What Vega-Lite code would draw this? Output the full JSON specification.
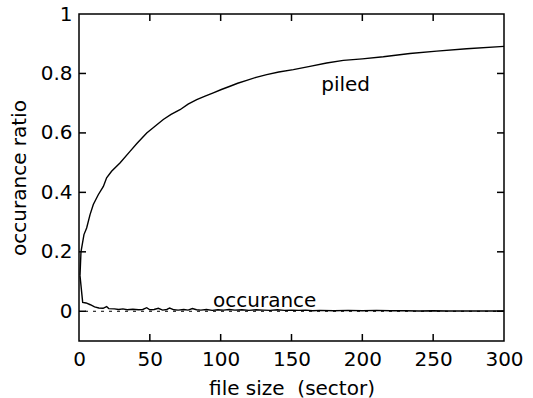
{
  "$schema": "https://vega.github.io/schema/vega-lite/v6.json",
  "width": 425,
  "height": 327,
  "autosize": {"type": "none"},
  "padding": {"left": 79, "top": 14, "right": 29, "bottom": 57},
  "background": "white",
  "config": {
    "view": {"stroke": "black", "strokeWidth": 1.5},
    "font": "DejaVu Sans",
    "axis": {
      "grid": false,
      "domain": false,
      "ticks": false,
      "labelFont": "DejaVu Sans",
      "labelFontSize": 20,
      "labelColor": "black",
      "titleFont": "DejaVu Sans",
      "titleFontSize": 20,
      "titleFontWeight": "normal",
      "titleColor": "black"
    }
  },
  "datasets": {
    "curves": [
      {"s": "piled", "x": 0.7, "y": 0.12},
      {"s": "piled", "x": 1.4, "y": 0.2},
      {"s": "piled", "x": 3.5, "y": 0.258},
      {"s": "piled", "x": 5.4, "y": 0.28},
      {"s": "piled", "x": 7.8, "y": 0.325},
      {"s": "piled", "x": 10.1, "y": 0.359},
      {"s": "piled", "x": 13.6, "y": 0.392},
      {"s": "piled", "x": 17.2, "y": 0.42},
      {"s": "piled", "x": 19.5, "y": 0.449},
      {"s": "piled", "x": 23, "y": 0.471},
      {"s": "piled", "x": 28.9, "y": 0.499},
      {"s": "piled", "x": 36, "y": 0.538},
      {"s": "piled", "x": 41, "y": 0.565},
      {"s": "piled", "x": 47.8, "y": 0.6},
      {"s": "piled", "x": 53, "y": 0.62},
      {"s": "piled", "x": 59.5, "y": 0.645},
      {"s": "piled", "x": 65, "y": 0.662},
      {"s": "piled", "x": 71.3, "y": 0.678},
      {"s": "piled", "x": 77, "y": 0.697},
      {"s": "piled", "x": 83.1, "y": 0.712},
      {"s": "piled", "x": 89, "y": 0.724},
      {"s": "piled", "x": 94.8, "y": 0.735},
      {"s": "piled", "x": 100.5, "y": 0.746},
      {"s": "piled", "x": 106.6, "y": 0.757},
      {"s": "piled", "x": 112, "y": 0.767},
      {"s": "piled", "x": 118.4, "y": 0.777},
      {"s": "piled", "x": 125, "y": 0.787},
      {"s": "piled", "x": 132.5, "y": 0.796},
      {"s": "piled", "x": 141, "y": 0.805},
      {"s": "piled", "x": 151.3, "y": 0.813},
      {"s": "piled", "x": 163, "y": 0.824},
      {"s": "piled", "x": 174.8, "y": 0.835},
      {"s": "piled", "x": 186.6, "y": 0.844},
      {"s": "piled", "x": 200, "y": 0.849},
      {"s": "piled", "x": 214.8, "y": 0.856},
      {"s": "piled", "x": 233.6, "y": 0.867},
      {"s": "piled", "x": 252.5, "y": 0.875},
      {"s": "piled", "x": 273.6, "y": 0.883},
      {"s": "piled", "x": 300, "y": 0.891},
      {"s": "occ", "x": 0.7, "y": 0.12},
      {"s": "occ", "x": 2.6, "y": 0.03},
      {"s": "occ", "x": 5, "y": 0.028},
      {"s": "occ", "x": 8, "y": 0.022},
      {"s": "occ", "x": 11, "y": 0.015},
      {"s": "occ", "x": 14, "y": 0.011},
      {"s": "occ", "x": 17, "y": 0.01},
      {"s": "occ", "x": 19.5, "y": 0.016},
      {"s": "occ", "x": 21, "y": 0.009},
      {"s": "occ", "x": 25, "y": 0.008},
      {"s": "occ", "x": 28, "y": 0.006},
      {"s": "occ", "x": 31, "y": 0.008},
      {"s": "occ", "x": 34, "y": 0.005},
      {"s": "occ", "x": 38, "y": 0.007},
      {"s": "occ", "x": 42, "y": 0.005},
      {"s": "occ", "x": 45, "y": 0.006},
      {"s": "occ", "x": 47.8, "y": 0.012},
      {"s": "occ", "x": 50, "y": 0.005},
      {"s": "occ", "x": 53, "y": 0.006},
      {"s": "occ", "x": 56, "y": 0.01},
      {"s": "occ", "x": 59, "y": 0.004},
      {"s": "occ", "x": 62, "y": 0.006},
      {"s": "occ", "x": 64, "y": 0.011},
      {"s": "occ", "x": 67, "y": 0.005},
      {"s": "occ", "x": 70, "y": 0.004},
      {"s": "occ", "x": 74, "y": 0.006},
      {"s": "occ", "x": 77, "y": 0.004},
      {"s": "occ", "x": 80, "y": 0.009},
      {"s": "occ", "x": 83, "y": 0.005},
      {"s": "occ", "x": 86, "y": 0.004},
      {"s": "occ", "x": 90, "y": 0.006},
      {"s": "occ", "x": 94, "y": 0.003},
      {"s": "occ", "x": 98, "y": 0.005},
      {"s": "occ", "x": 102, "y": 0.004},
      {"s": "occ", "x": 106, "y": 0.006},
      {"s": "occ", "x": 110, "y": 0.004},
      {"s": "occ", "x": 115, "y": 0.005},
      {"s": "occ", "x": 120, "y": 0.003},
      {"s": "occ", "x": 125, "y": 0.005},
      {"s": "occ", "x": 130, "y": 0.004},
      {"s": "occ", "x": 135, "y": 0.003},
      {"s": "occ", "x": 140, "y": 0.005},
      {"s": "occ", "x": 145, "y": 0.003},
      {"s": "occ", "x": 150, "y": 0.004},
      {"s": "occ", "x": 155, "y": 0.003},
      {"s": "occ", "x": 160, "y": 0.004},
      {"s": "occ", "x": 165, "y": 0.002},
      {"s": "occ", "x": 170, "y": 0.003},
      {"s": "occ", "x": 180, "y": 0.002},
      {"s": "occ", "x": 190, "y": 0.003},
      {"s": "occ", "x": 200, "y": 0.002},
      {"s": "occ", "x": 210, "y": 0.003},
      {"s": "occ", "x": 220, "y": 0.002},
      {"s": "occ", "x": 230, "y": 0.002},
      {"s": "occ", "x": 240, "y": 0.001},
      {"s": "occ", "x": 250, "y": 0.002},
      {"s": "occ", "x": 260, "y": 0.001},
      {"s": "occ", "x": 270, "y": 0.001},
      {"s": "occ", "x": 280, "y": 0.001},
      {"s": "occ", "x": 290, "y": 0.001},
      {"s": "occ", "x": 300, "y": 0.001}
    ],
    "labels": [
      {"x": 171, "y": 0.74, "t": "piled"},
      {"x": 94.6, "y": 0.013, "t": "occurance"}
    ],
    "zero": [{"y": 0}],
    "xticks": [{"v": 50}, {"v": 100}, {"v": 150}, {"v": 200}, {"v": 250}],
    "yticks": [{"v": 0}, {"v": 0.2}, {"v": 0.4}, {"v": 0.6}, {"v": 0.8}]
  },
  "layer": [
    {
      "data": {"name": "zero"},
      "mark": {"type": "rule", "color": "black", "strokeWidth": 1, "strokeDash": [3, 5]},
      "encoding": {
        "y": {"field": "y", "type": "quantitative", "scale": {"domain": [-0.1, 1], "nice": false, "zero": false}}
      }
    },
    {
      "data": {"name": "xticks"},
      "mark": {"type": "tick", "orient": "vertical", "color": "black", "size": 7, "thickness": 1.5, "yOffset": -3.5, "opacity": 1},
      "encoding": {
        "x": {"field": "v", "type": "quantitative"},
        "y": {"datum": -0.1, "type": "quantitative"}
      }
    },
    {
      "data": {"name": "xticks"},
      "mark": {"type": "tick", "orient": "vertical", "color": "black", "size": 7, "thickness": 1.5, "yOffset": 3.5, "opacity": 1},
      "encoding": {
        "x": {"field": "v", "type": "quantitative"},
        "y": {"datum": 1, "type": "quantitative"}
      }
    },
    {
      "data": {"name": "yticks"},
      "mark": {"type": "tick", "orient": "horizontal", "color": "black", "size": 7, "thickness": 1.5, "xOffset": 3.5, "opacity": 1},
      "encoding": {
        "y": {"field": "v", "type": "quantitative"},
        "x": {"datum": 0, "type": "quantitative"}
      }
    },
    {
      "data": {"name": "yticks"},
      "mark": {"type": "tick", "orient": "horizontal", "color": "black", "size": 7, "thickness": 1.5, "xOffset": -3.5, "opacity": 1},
      "encoding": {
        "y": {"field": "v", "type": "quantitative"},
        "x": {"datum": 300, "type": "quantitative"}
      }
    },
    {
      "data": {"name": "curves"},
      "mark": {"type": "line", "color": "black", "strokeWidth": 1.4},
      "encoding": {
        "x": {
          "field": "x", "type": "quantitative",
          "scale": {"domain": [0, 300], "nice": false, "zero": false},
          "axis": {"orient": "bottom", "values": [0, 50, 100, 150, 200, 250, 300], "labelPadding": 8, "title": "file size\u00a0 (sector)", "titlePadding": 9, "labelFlush": false}
        },
        "y": {
          "field": "y", "type": "quantitative",
          "scale": {"domain": [-0.1, 1], "nice": false, "zero": false},
          "axis": {"orient": "left", "values": [0, 0.2, 0.4, 0.6, 0.8, 1], "format": "~g", "labelPadding": 7, "title": "occurance ratio", "titlePadding": 11, "labelFlush": false}
        },
        "detail": {"field": "s"}
      }
    },
    {
      "data": {"name": "labels"},
      "mark": {"type": "text", "align": "left", "baseline": "alphabetic", "font": "DejaVu Sans", "fontSize": 20, "color": "black"},
      "encoding": {
        "x": {"field": "x", "type": "quantitative"},
        "y": {"field": "y", "type": "quantitative"},
        "text": {"field": "t"}
      }
    }
  ]
}
